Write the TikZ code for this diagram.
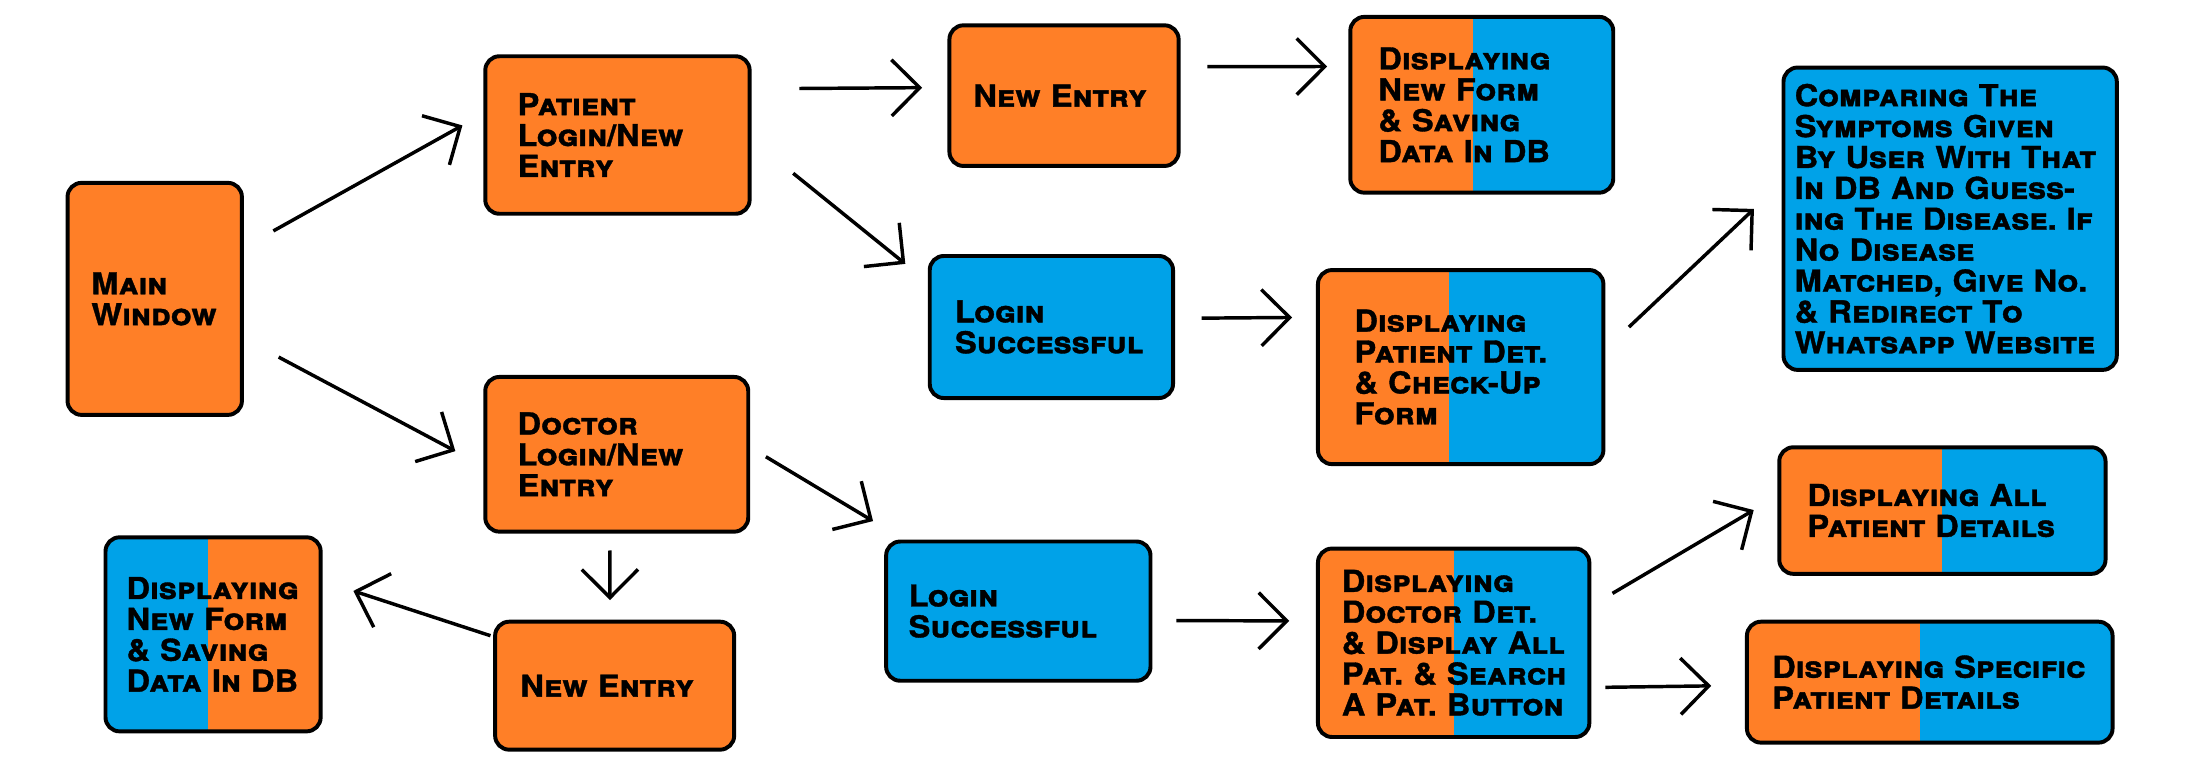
\documentclass[tikz,border=0pt]{standalone}
\usepackage{fontspec}
\setmainfont[FakeStretch=1.08, FakeBold=1.2]{TeX Gyre Heros}
\usepackage{tikz}
\usetikzlibrary{calc,arrows.meta,positioning}
\definecolor{naranja}{HTML}{FF7F27}
\definecolor{azul}{HTML}{00A2E8}
\tikzstyle{caja} = [rectangle, rounded corners=0.2cm, draw=black, line width=1.6pt, inner xsep=0.36cm, inner ysep=0pt, align=left, font=\fontsize{12.2}{12.5}\selectfont\bfseries\scshape\frenchspacing]
\tikzstyle{cajanaranja} = [caja, fill=naranja]
\tikzstyle{cajaazul} = [caja, fill=azul]
\tikzset{cajadoble/.style={caja, fill=naranja, path picture={\fill[azul, sharp corners] ($(path picture bounding box.south west)!#1!(path picture bounding box.south east)$) rectangle (path picture bounding box.north east);}}}
\tikzset{cajadobleinv/.style={caja, fill=azul, path picture={\fill[naranja, sharp corners] ($(path picture bounding box.south west)!#1!(path picture bounding box.south east)$) rectangle (path picture bounding box.north east);}}}
\tikzstyle{flecha} = [line width=1.4pt, -{Straight Barb[length=0.4cm,width=0.8cm]}]

\begin{document}
\begin{tikzpicture}[x=0.02cm, y=-0.02cm]
	\useasboundingbox (0,0) rectangle (1567,549.7);
	% Cajas
	\node (main) [cajanaranja, text width=1.80cm, inner xsep=0.34cm, minimum height=3.30cm] at (110,212.5) {Main\\Window};
	\node (pat) [cajanaranja, text width=2.84cm, inner xsep=0.46cm, minimum height=2.24cm] at (439,96) {Patient\\Login/New\\Entry};
	\node (newp) [cajanaranja, text width=2.58cm, inner xsep=0.34cm, minimum height=2.00cm] at (756.5,68) {New Entry};
	\node (formp) [cajadoble=0.465, text width=2.94cm, inner xsep=0.40cm, minimum height=2.50cm] at (1053.5,74.5) {Displaying\\New Form\\\& Saving\\Data In DB};
	\node (logp) [cajaazul, text width=2.74cm, minimum height=2.02cm] at (747.5,232.5) {Login\\Successful};
	\node (detp) [cajadoble=0.46, text width=3.02cm, inner xsep=0.52cm, minimum height=2.76cm] at (1038.5,261) {Displaying\\Patient Det.\\\& Check-Up\\Form};
	\node (comp) [cajaazul, text width=4.42cm, inner xsep=0.16cm, minimum height=4.30cm] at (1386.5,155.5) {Comparing The\\Symptoms Given\\By User With That\\In DB And Guess-\\ing The Disease. If\\No Disease\\Matched, Give No.\\\& Redirect To\\\mbox{Whatsapp Website}};
	\node (doc) [cajanaranja, text width=2.82cm, inner xsep=0.46cm, minimum height=2.20cm] at (438.5,323) {Doctor\\Login/New\\Entry};
	\node (formd) [cajadobleinv=0.477, text width=2.46cm, inner xsep=0.30cm, minimum height=2.76cm] at (151.5,451) {Displaying\\New Form\\\& Saving\\Data In DB};
	\node (newd) [cajanaranja, text width=2.68cm, minimum height=1.82cm] at (437,487.5) {New Entry};
	\node (logd) [cajaazul, text width=3.12cm, inner xsep=0.32cm, minimum height=1.98cm] at (724,434.5) {Login\\Successful};
	\node (detd) [cajadoble=0.5, text width=3.18cm, inner xsep=0.34cm, minimum height=2.68cm] at (1033.5,457) {Displaying\\Doctor Det.\\\& Display All\\\mbox{Pat. \& Search}\\\mbox{A Pat. Button}};
	\node (allp) [cajadoble=0.5, text width=3.84cm, inner xsep=0.40cm, minimum height=1.80cm] at (1381,363) {Displaying All\\Patient Details};
	\node (spec) [cajadoble=0.473, text width=4.48cm, minimum height=1.72cm] at (1372,485) {Displaying Specific\\Patient Details};
	% Flechas
	\draw[flecha, shorten <=0.48cm, shorten >=0.34cm] (main.30) -- (pat.171);
	\draw[flecha, shorten <=0.56cm, shorten >=0.45cm] (main.-24) -- (doc.185);
	\draw[flecha, shorten <=0.68cm, shorten >=0.36cm] (pat.19) -- (newp.176);
	\draw[flecha, shorten <=0.76cm, shorten >=0.41cm] (pat.-2) -- (logp.160);
	\draw[flecha, shorten <=0.38cm, shorten >=0.30cm] (newp.14) -- (formp.164);
	\draw[flecha, shorten <=0.38cm, shorten >=0.34cm] (logp.4) -- (detp.161);
	\draw[flecha, shorten <=0.46cm, shorten >=0.54cm] (detp.7) -- (comp.168);
	\draw[flecha, shorten <=0.26cm, shorten >=0.51cm] (doc.3) -- (logd.148);
	\draw[flecha, shorten <=0.24cm, shorten >=0.28cm] (doc.-95) -- (newd.94);
	\draw[flecha, shorten <=0.04cm, shorten >=0.46cm] (newd.158) -- (formd.26);
	\draw[flecha, shorten <=0.34cm, shorten >=0.38cm] (logd.-4) -- (detd.171);
	\draw[flecha, shorten <=0.35cm, shorten >=0.39cm] (detd.15) -- (allp.175);
	\draw[flecha, shorten <=0.20cm, shorten >=0.48cm] (detd.-18) -- (spec.181);
\end{tikzpicture}
\end{document}
